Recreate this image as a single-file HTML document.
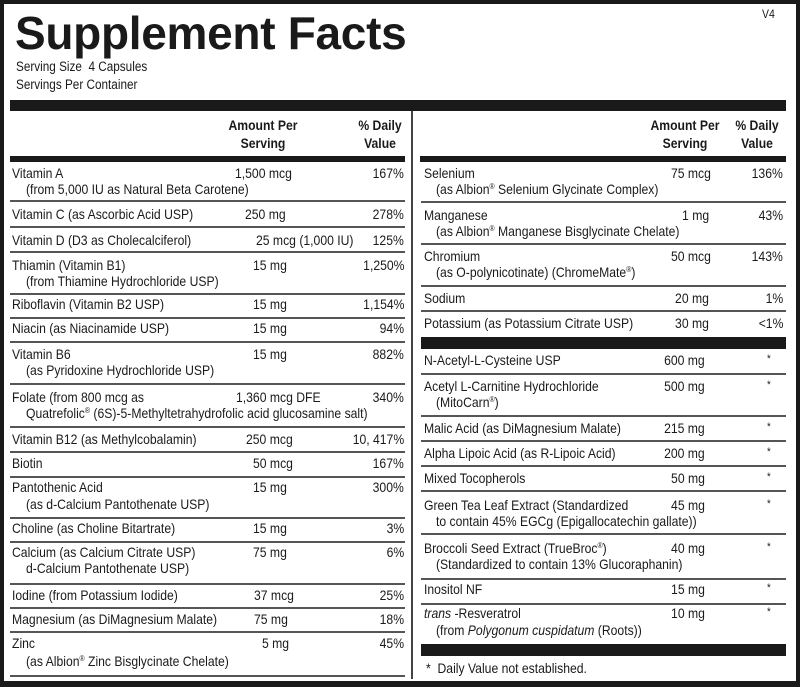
<!DOCTYPE html>
<html><head><meta charset="utf-8"><style>
body{margin:0;background:#fff}
#p{position:relative;width:800px;height:687px;overflow:hidden;background:#fff;font-family:"Liberation Sans",sans-serif;color:#1a1a1a}
.b{position:absolute;background:#1a1a1a}
.g{position:absolute;height:2px;background:#555}
.t{position:absolute;white-space:nowrap;font-size:14px;line-height:14px;transform:scaleX(.87);transform-origin:0 0}
.r{transform-origin:100% 0;text-align:right}
.h{font-weight:bold;text-align:center;transform-origin:50% 0;line-height:18px}
sup{font-size:8px;vertical-align:5px;line-height:0}
</style></head><body><div id="p">
<div class="b" style="left:0;top:0;width:800px;height:4px"></div>
<div class="b" style="left:0;top:0;width:4px;height:687px"></div>
<div class="b" style="right:0;top:0;width:4px;height:687px"></div>
<div class="b" style="left:0;bottom:0;width:800px;height:6px"></div>
<div style="position:absolute;left:15px;top:7px;font-size:46px;font-weight:bold;line-height:52px;letter-spacing:-0.3px">Supplement Facts</div>
<div class="t" style="left:762px;top:7px;font-size:12px">V4</div>
<div class="t" style="left:16px;top:60px;font-size:13.5px">Serving Size&nbsp; 4 Capsules</div>
<div class="t" style="left:16px;top:78px;font-size:13.5px">Servings Per Container</div>
<div class="b" style="left:10px;top:100px;width:776px;height:11px"></div>
<div class="b" style="left:10px;top:156px;width:395px;height:6px"></div>
<div class="b" style="left:420px;top:156px;width:366px;height:6px"></div>
<div class="b" style="left:411px;top:111px;width:2px;height:568px;background:#444"></div>
<div class="t h" style="left:203px;top:116px;width:120px">Amount Per<br>Serving</div>
<div class="t h" style="left:330px;top:116px;width:100px">% Daily<br>Value</div>
<div class="t h" style="left:630px;top:116px;width:110px">Amount Per<br>Serving</div>
<div class="t h" style="left:714px;top:116px;width:86px">% Daily<br>Value</div>

<!-- left lines -->
<div class="g" style="left:10px;width:395px;top:200px"></div>
<div class="g" style="left:10px;width:395px;top:226px"></div>
<div class="g" style="left:10px;width:395px;top:251px"></div>
<div class="g" style="left:10px;width:395px;top:293px"></div>
<div class="g" style="left:10px;width:395px;top:317px"></div>
<div class="g" style="left:10px;width:395px;top:341px"></div>
<div class="g" style="left:10px;width:395px;top:383px"></div>
<div class="g" style="left:10px;width:395px;top:426px"></div>
<div class="g" style="left:10px;width:395px;top:451px"></div>
<div class="g" style="left:10px;width:395px;top:476px"></div>
<div class="g" style="left:10px;width:395px;top:517px"></div>
<div class="g" style="left:10px;width:395px;top:541px"></div>
<div class="g" style="left:10px;width:395px;top:583px"></div>
<div class="g" style="left:10px;width:395px;top:607px"></div>
<div class="g" style="left:10px;width:395px;top:631px"></div>
<div class="g" style="left:10px;width:395px;top:675px"></div>

<!-- right lines -->
<div class="g" style="left:421px;width:365px;top:201px"></div>
<div class="g" style="left:421px;width:365px;top:243px"></div>
<div class="g" style="left:421px;width:365px;top:285px"></div>
<div class="g" style="left:421px;width:365px;top:310px"></div>
<div class="b" style="left:421px;width:365px;top:337px;height:12px"></div>
<div class="g" style="left:421px;width:365px;top:373px"></div>
<div class="g" style="left:421px;width:365px;top:415px"></div>
<div class="g" style="left:421px;width:365px;top:440px"></div>
<div class="g" style="left:421px;width:365px;top:465px"></div>
<div class="g" style="left:421px;width:365px;top:490px"></div>
<div class="g" style="left:421px;width:365px;top:533px"></div>
<div class="g" style="left:421px;width:365px;top:578px"></div>
<div class="g" style="left:421px;width:365px;top:603px"></div>
<div class="b" style="left:421px;width:365px;top:644px;height:12px"></div>

<!-- left text -->
<div class="t" style="left:12px;top:166px">Vitamin A</div>
<div class="t" style="left:26px;top:182px">(from 5,000 IU as Natural Beta Carotene)</div>
<div class="t" style="left:235px;top:166px">1,500 mcg</div>
<div class="t r" style="right:396px;top:166px">167%</div>

<div class="t" style="left:12px;top:207px">Vitamin C (as Ascorbic Acid USP)</div>
<div class="t" style="left:245px;top:207px">250 mg</div>
<div class="t r" style="right:396px;top:207px">278%</div>

<div class="t" style="left:12px;top:233px">Vitamin D (D3 as Cholecalciferol)</div>
<div class="t" style="left:256px;top:233px">25 mcg (1,000 IU)</div>
<div class="t r" style="right:396px;top:233px">125%</div>

<div class="t" style="left:12px;top:258px">Thiamin (Vitamin B1)</div>
<div class="t" style="left:26px;top:274px">(from Thiamine Hydrochloride USP)</div>
<div class="t" style="left:253px;top:258px">15 mg</div>
<div class="t r" style="right:396px;top:258px">1,250%</div>

<div class="t" style="left:12px;top:297px">Riboflavin (Vitamin B2 USP)</div>
<div class="t" style="left:253px;top:297px">15 mg</div>
<div class="t r" style="right:396px;top:297px">1,154%</div>

<div class="t" style="left:12px;top:321px">Niacin (as Niacinamide USP)</div>
<div class="t" style="left:253px;top:321px">15 mg</div>
<div class="t r" style="right:396px;top:321px">94%</div>

<div class="t" style="left:12px;top:347px">Vitamin B6</div>
<div class="t" style="left:26px;top:363px">(as Pyridoxine Hydrochloride USP)</div>
<div class="t" style="left:253px;top:347px">15 mg</div>
<div class="t r" style="right:396px;top:347px">882%</div>

<div class="t" style="left:12px;top:390px">Folate (from 800 mcg as</div>
<div class="t" style="left:26px;top:406px">Quatrefolic<sup>®</sup> (6S)-5-Methyltetrahydrofolic acid glucosamine salt)</div>
<div class="t" style="left:236px;top:390px">1,360 mcg DFE</div>
<div class="t r" style="right:396px;top:390px">340%</div>

<div class="t" style="left:12px;top:432px">Vitamin B12 (as Methylcobalamin)</div>
<div class="t" style="left:246px;top:432px">250 mcg</div>
<div class="t r" style="right:396px;top:432px">10, 417%</div>

<div class="t" style="left:12px;top:456px">Biotin</div>
<div class="t" style="left:253px;top:456px">50 mcg</div>
<div class="t r" style="right:396px;top:456px">167%</div>

<div class="t" style="left:12px;top:480px">Pantothenic Acid</div>
<div class="t" style="left:26px;top:497px">(as d-Calcium Pantothenate USP)</div>
<div class="t" style="left:253px;top:480px">15 mg</div>
<div class="t r" style="right:396px;top:480px">300%</div>

<div class="t" style="left:12px;top:521px">Choline (as Choline Bitartrate)</div>
<div class="t" style="left:253px;top:521px">15 mg</div>
<div class="t r" style="right:396px;top:521px">3%</div>

<div class="t" style="left:12px;top:545px">Calcium (as Calcium Citrate USP)</div>
<div class="t" style="left:26px;top:561px">d-Calcium Pantothenate USP)</div>
<div class="t" style="left:253px;top:545px">75 mg</div>
<div class="t r" style="right:396px;top:545px">6%</div>

<div class="t" style="left:12px;top:588px">Iodine (from Potassium Iodide)</div>
<div class="t" style="left:254px;top:588px">37 mcg</div>
<div class="t r" style="right:396px;top:588px">25%</div>

<div class="t" style="left:12px;top:612px">Magnesium (as DiMagnesium Malate)</div>
<div class="t" style="left:254px;top:612px">75 mg</div>
<div class="t r" style="right:396px;top:612px">18%</div>

<div class="t" style="left:12px;top:636px">Zinc</div>
<div class="t" style="left:26px;top:654px">(as Albion<sup>®</sup> Zinc Bisglycinate Chelate)</div>
<div class="t" style="left:262px;top:636px">5 mg</div>
<div class="t r" style="right:396px;top:636px">45%</div>

<!-- right text -->
<div class="t" style="left:424px;top:166px">Selenium</div>
<div class="t" style="left:436px;top:182px">(as Albion<sup>®</sup> Selenium Glycinate Complex)</div>
<div class="t r" style="right:89px;top:166px">75 mcg</div>
<div class="t r" style="right:17px;top:166px">136%</div>

<div class="t" style="left:424px;top:208px">Manganese</div>
<div class="t" style="left:436px;top:224px">(as Albion<sup>®</sup> Manganese Bisglycinate Chelate)</div>
<div class="t r" style="right:91px;top:208px">1 mg</div>
<div class="t r" style="right:17px;top:208px">43%</div>

<div class="t" style="left:424px;top:249px">Chromium</div>
<div class="t" style="left:436px;top:265px">(as O-polynicotinate) (ChromeMate<sup>®</sup>)</div>
<div class="t r" style="right:89px;top:249px">50 mcg</div>
<div class="t r" style="right:17px;top:249px">143%</div>

<div class="t" style="left:424px;top:291px">Sodium</div>
<div class="t r" style="right:91px;top:291px">20 mg</div>
<div class="t r" style="right:17px;top:291px">1%</div>

<div class="t" style="left:424px;top:316px">Potassium (as Potassium Citrate USP)</div>
<div class="t r" style="right:91px;top:316px">30 mg</div>
<div class="t r" style="right:17px;top:316px">&lt;1%</div>

<div class="t" style="left:424px;top:353px">N-Acetyl-L-Cysteine USP</div>
<div class="t r" style="right:95px;top:353px">600 mg</div>
<div class="t" style="left:767px;top:352px;font-size:11px">*</div>

<div class="t" style="left:424px;top:379px">Acetyl L-Carnitine Hydrochloride</div>
<div class="t" style="left:436px;top:395px">(MitoCarn<sup>®</sup>)</div>
<div class="t r" style="right:95px;top:379px">500 mg</div>
<div class="t" style="left:767px;top:378px;font-size:11px">*</div>

<div class="t" style="left:424px;top:421px">Malic Acid (as DiMagnesium Malate)</div>
<div class="t r" style="right:95px;top:421px">215 mg</div>
<div class="t" style="left:767px;top:420px;font-size:11px">*</div>

<div class="t" style="left:424px;top:446px">Alpha Lipoic Acid (as R-Lipoic Acid)</div>
<div class="t r" style="right:95px;top:446px">200 mg</div>
<div class="t" style="left:767px;top:445px;font-size:11px">*</div>

<div class="t" style="left:424px;top:471px">Mixed Tocopherols</div>
<div class="t r" style="right:95px;top:471px">50 mg</div>
<div class="t" style="left:767px;top:470px;font-size:11px">*</div>

<div class="t" style="left:424px;top:498px">Green Tea Leaf Extract (Standardized</div>
<div class="t" style="left:436px;top:514px">to contain 45% EGCg (Epigallocatechin gallate))</div>
<div class="t r" style="right:95px;top:498px">45 mg</div>
<div class="t" style="left:767px;top:497px;font-size:11px">*</div>

<div class="t" style="left:424px;top:541px">Broccoli Seed Extract (TrueBroc<sup>®</sup>)</div>
<div class="t" style="left:436px;top:557px">(Standardized to contain 13% Glucoraphanin)</div>
<div class="t r" style="right:95px;top:541px">40 mg</div>
<div class="t" style="left:767px;top:540px;font-size:11px">*</div>

<div class="t" style="left:424px;top:582px">Inositol NF</div>
<div class="t r" style="right:95px;top:582px">15 mg</div>
<div class="t" style="left:767px;top:581px;font-size:11px">*</div>

<div class="t" style="left:424px;top:606px"><i>trans</i> -Resveratrol</div>
<div class="t" style="left:436px;top:623px">(from <i>Polygonum cuspidatum</i> (Roots))</div>
<div class="t r" style="right:95px;top:606px">10 mg</div>
<div class="t" style="left:767px;top:605px;font-size:11px">*</div>

<div class="t" style="left:426px;top:661px">*&nbsp; Daily Value not established.</div>
</div></body></html>
